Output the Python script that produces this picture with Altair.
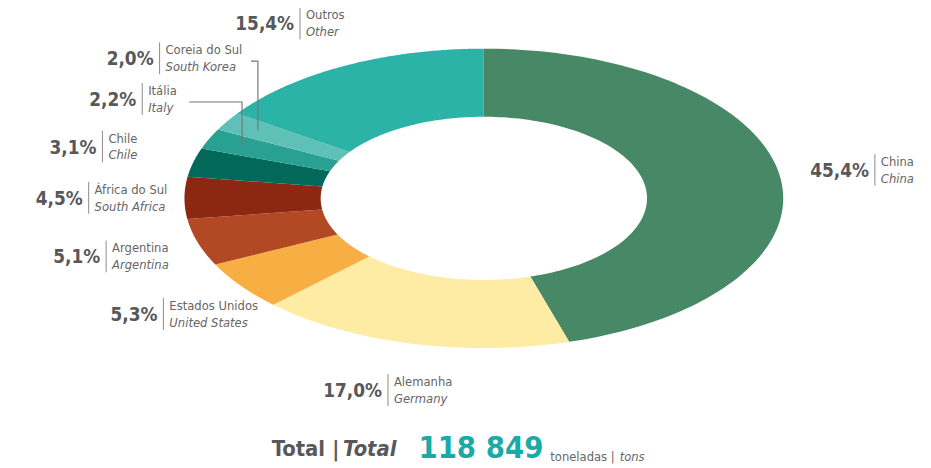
import math
import altair as alt
import pandas as pd

# ---------------- data ----------------
countries_pt = ["China", "Alemanha", "Estados Unidos", "Argentina", "África do Sul",
                "Chile", "Itália", "Coreia do Sul", "Outros"]
countries_en = ["China", "Germany", "United States", "Argentina", "South Africa",
                "Chile", "Italy", "South Korea", "Other"]
shares = [45.4, 17.0, 5.3, 5.1, 4.5, 3.1, 2.2, 2.0, 15.4]
slice_colors = ["#478966", "#FEEBA4", "#F7AE43", "#B34825", "#8C2712",
                "#02695A", "#28A192", "#5EC0B6", "#2BB3A7"]
total_words = ["Total", "|", "Total"]
total_value = ["118 849"]
unit_words = ["toneladas |", "tons"]

# ---------------- layout / style ----------------
W, H = 923, 460            # svg size (page has 8px margin)
CX, CY = 488, 198          # donut centre on the page
RX, RY = 302, 151          # outer radii (px) -> elliptical donut
INNER = 0.545              # inner radius as fraction of outer
LABEL_R = 1.32             # label ring (in outer-radius units)
MIN_GAP = 15               # min angular gap between labels (deg)
LEADER_SHARE = 2.5         # slices smaller than this get a leader line
LEADER_R = 0.88
CHAR_W = 6.4               # rough px width per character of a name
N = 120
FONT = "DejaVu Sans Condensed, Roboto, sans-serif"
PCT_COLOR = "#58585A"
NAME_COLOR = "#666666"
TEAL = "#1AABA8"

x_dom = [-(CX - 8) / RX, (8 + W - CX) / RX]
y_dom = [-(8 + H - CY) / RY, (CY - 8) / RY]
xs = alt.Scale(domain=x_dom, nice=False, zero=False)
ys = alt.Scale(domain=y_dom, nice=False, zero=False)


def X(f):
    return alt.X(f, type="quantitative", scale=xs, axis=None)


def Y(f):
    return alt.Y(f, type="quantitative", scale=ys, axis=None)


# ---------------- build tables from the arrays ----------------
total = sum(shares)
poly_rows, mids = [], []
cum = 0.0
for name, s in zip(countries_pt, shares):
    a0 = cum / total * 2 * math.pi
    a1 = (cum + s) / total * 2 * math.pi
    cum += s
    mids.append((a0 + a1) / 2)
    k = 0
    for j in range(N + 1):
        t = a0 + (a1 - a0) * j / N
        poly_rows.append(dict(country=name, k=k, u=math.sin(t), v=math.cos(t)))
        k += 1
    for j in range(N, -1, -1):
        t = a0 + (a1 - a0) * j / N
        poly_rows.append(dict(country=name, k=k, u=INNER * math.sin(t), v=INNER * math.cos(t)))
        k += 1
poly = pd.DataFrame(poly_rows)

# push label angles forward (clockwise) so that labels do not collide
lab = [math.degrees(m) for m in mids]
order = sorted(range(len(lab)), key=lambda i: lab[i])
for a, b in zip(order, order[1:]):
    lab[b] = max(lab[b], lab[a] + MIN_GAP)

lab_rows, leader_rows = [], []
for i, (pt, en, s) in enumerate(zip(countries_pt, countries_en, shares)):
    la = math.radians(lab[i])
    lu, lv = LABEL_R * math.sin(la), LABEL_R * math.cos(la)
    name_w = max(len(pt), len(en)) * CHAR_W
    if s < LEADER_SHARE:
        su, sv = LEADER_R * math.sin(mids[i]), LEADER_R * math.cos(mids[i])
        lu = min(lu, su - (16 + name_w) / RX)
        hv = lv - 3 / RY
        pts = [(su, sv), (su, hv), (lu + (9 + name_w) / RX, hv)]
        for k, (pu, pv) in enumerate(pts):
            leader_rows.append(dict(country=pt, k=k, u=pu, v=pv))
    lab_rows.append(dict(country=pt, en=en,
                         pct=f"{s:.1f}%".replace(".", ","),
                         u=lu, v=lv, v_top=lv + 16 / RY, v_bot=lv - 16 / RY))
labels = pd.DataFrame(lab_rows)
leaders = pd.DataFrame(leader_rows)

# ---------------- layers ----------------
slices = alt.Chart(poly).mark_line(filled=True, strokeWidth=0).encode(
    x=X("u"), y=Y("v"),
    color=alt.Color("country:N", scale=alt.Scale(domain=countries_pt, range=slice_colors), legend=None),
    detail="country:N",
    order="k:Q",
)

leader_lines = alt.Chart(leaders).mark_line(color="#777777", strokeWidth=1.2).encode(
    x=X("u"), y=Y("v"), detail="country:N", order="k:Q"
)

sep = alt.Chart(labels).mark_rule(color="#8a8a8a", strokeWidth=1).encode(
    x=X("u"), y=Y("v_top"), y2="v_bot"
)

pct = alt.Chart(labels).mark_text(
    align="right", baseline="middle", dx=-6, dy=1, font=FONT, fontSize=19,
    fontWeight="bold", color=PCT_COLOR
).encode(x=X("u"), y=Y("v"), text="pct:N")

name_pt = alt.Chart(labels).mark_text(
    align="left", baseline="middle", dx=6, dy=-8, font=FONT, fontSize=13, color=NAME_COLOR
).encode(x=X("u"), y=Y("v"), text="country:N")

name_en = alt.Chart(labels).mark_text(
    align="left", baseline="middle", dx=6, dy=9, font=FONT, fontSize=13,
    fontStyle="italic", color=NAME_COLOR
).encode(x=X("u"), y=Y("v"), text="en:N")


def foot(txt, x, y, size, weight="normal", style="normal", color=PCT_COLOR):
    return alt.Chart(pd.DataFrame({"t": [txt]})).mark_text(
        align="left", baseline="alphabetic", x=x, y=y, font=FONT, fontSize=size,
        fontWeight=weight, fontStyle=style, color=color
    ).encode(text="t:N")


footer = [
    foot(total_words[0], 266, 450, 22, "bold"),
    foot(total_words[1], 327, 450, 22, "bold"),
    foot(total_words[2], 338, 450, 22, "bold", "italic"),
    foot(total_value[0], 414, 452, 31, "bold", color=TEAL),
    foot(unit_words[0], 547, 455, 13, color=NAME_COLOR),
    foot(unit_words[1], 617, 455, 13, style="italic", color=NAME_COLOR),
]

chart = alt.layer(slices, leader_lines, sep, pct, name_pt, name_en, *footer).properties(
    width=W, height=H, padding=0, autosize="none", background="white"
).configure_view(stroke=None)

chart.save("out.html", embed_options={"renderer": "svg", "actions": False})
